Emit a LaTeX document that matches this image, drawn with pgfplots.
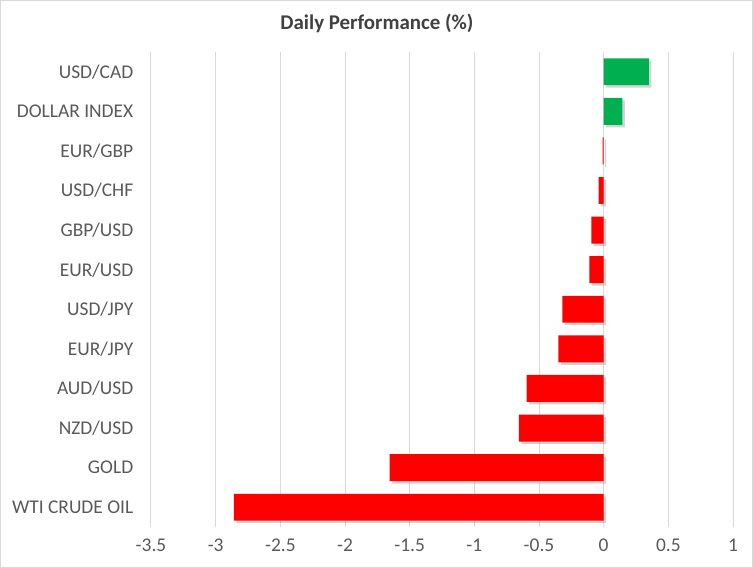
\documentclass[border=0pt]{standalone}
\usepackage{pgfplots}
\pgfplotsset{compat=1.18}
\usepackage{fontspec}
\setmainfont{Carlito}
\usetikzlibrary{shadows}
\definecolor{barred}{HTML}{FF0000}
\definecolor{bargreen}{HTML}{00B050}
\definecolor{gridgray}{HTML}{D9D9D9}
\definecolor{labgray}{HTML}{595959}
\definecolor{titlegray}{HTML}{404040}
\begin{document}
\begin{tikzpicture}[x=1bp,y=1bp]
% chart frame (plot area sits at 151..733 x 52..527 px)
\draw[gridgray, line width=1bp] (-150.5,-40.5) rectangle (601.5,526.5);
\begin{axis}[
    at={(0,0)}, anchor=south west,
    scale only axis,
    width=582bp, height=475bp,
    xbar, bar width=0.68, bar shift=0pt,
    xmin=-3.5, xmax=1,
    xtick={-3.5,-3,...,1},
    ymin=-0.5, ymax=11.5,
    y dir=reverse,
    ytick={0,...,11},
    yticklabels={USD/CAD,DOLLAR INDEX,EUR/GBP,USD/CHF,GBP/USD,EUR/USD,USD/JPY,EUR/JPY,AUD/USD,NZD/USD,GOLD,WTI CRUDE OIL},
    axis line style={draw=none},
    major tick style={draw=none},
    xmajorgrids, grid style={gridgray, line width=1bp},
    ticklabel style={font=\fontsize{19.5}{22}\selectfont, text=labgray},
    /pgf/number format/assume math mode=true,
    yticklabel style={xshift=-10bp},
    xticklabel style={yshift=-8bp},
    title={\bfseries Daily Performance (\%)},
    title style={font=\fontsize{21}{24}\selectfont, text=titlegray, at={(0.3883,1)}, yshift=10bp},
    clip=false,
]
\addplot[fill=bargreen, draw=none, drop shadow={shadow xshift=2.5bp, shadow yshift=-2.5bp, opacity=0.35}]
  coordinates {(0.35,0) (0.145,1)};
\addplot[fill=barred, draw=none, drop shadow={shadow xshift=2.5bp, shadow yshift=-2.5bp, opacity=0.35}]
  coordinates {(-0.008,2) (-0.04,3) (-0.095,4) (-0.11,5) (-0.32,6) (-0.35,7) (-0.595,8) (-0.655,9) (-1.655,10) (-2.86,11)};
\end{axis}
\end{tikzpicture}
\end{document}
